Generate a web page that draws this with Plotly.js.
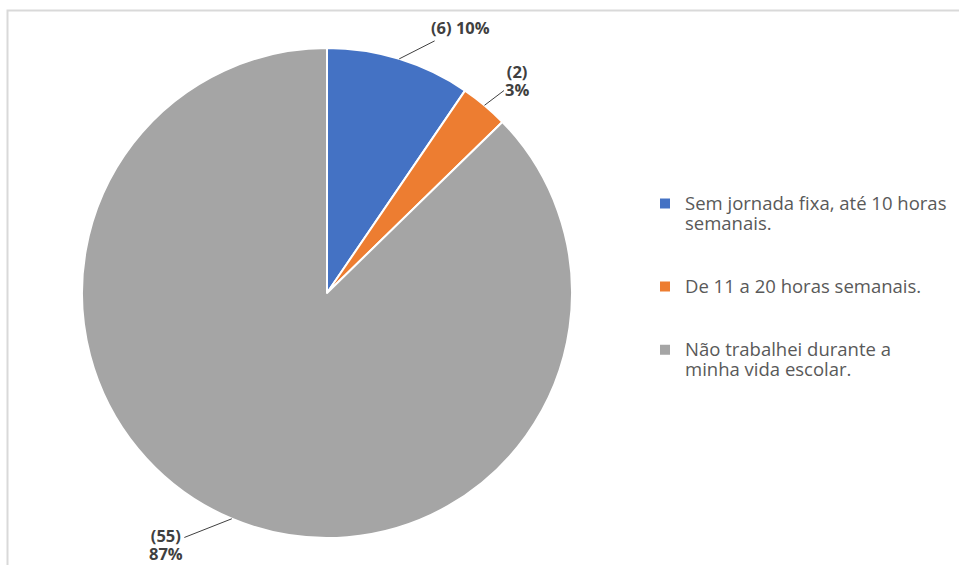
<!DOCTYPE html>
<html>
<head>
<meta charset="utf-8">
<script src="https://cdn.plot.ly/plotly-3.0.1.min.js"></script>
<style>html,body{margin:0;padding:0;background:#fff;}#chart{width:959px;height:565px;}</style>
</head>
<body>
<div id="chart"></div>
<script>
// ---- data ----
const categoryLines = [
  ["Sem jornada fixa, até 10 horas", "semanais."],
  ["De 11 a 20 horas semanais."],
  ["Não trabalhei durante a", "minha vida escolar."]
];
const counts = [6, 2, 55];
const colors = ["#4472C4", "#ED7D31", "#A5A5A5"];

// ---- layout geometry (px) ----
const W = 959, H = 565;
const cx = 327, cy = 293, R = 245;
// label offsets from slice edge midpoint (px)
const labelOffsets = [[61, -31], [33, -25], [-66, 26]];
const twoLineLabel = [false, true, true];
const big = (s, px) => "<span style='font-size:" + px + "px'>" + s + "</span>";

const total = counts.reduce((a, b) => a + b, 0);
let cum = 0;
const annotations = counts.map((v, i) => {
  const mid = (cum + v / 2) / total * 2 * Math.PI;
  cum += v;
  const px = cx + R * Math.sin(mid);
  const py = cy - R * Math.cos(mid);
  const pct = Math.round(v / total * 100);
  const parts = twoLineLabel[i] ? ["(" + v + ")", pct + "%"] : ["(" + v + ") " + pct + "%"];
  return {
    xref: "paper", yref: "paper",
    x: px / W, y: 1 - py / H,
    ax: labelOffsets[i][0], ay: labelOffsets[i][1],
    text: parts.map(p => big(p, 16.5)).join("<br>"),
    showarrow: true, arrowhead: 0, arrowwidth: 1, arrowcolor: "#404040",
    standoff: 0, startstandoff: 0,
    font: {family: "'Open Sans', sans-serif", size: 14, color: "#404040", weight: 700},
    align: "center"
  };
});

const trace = {
  type: "pie",
  labels: categoryLines.map(lines => lines.map(l => big(l, 18.5)).join("<br>") + "<br> <br> "),
  values: counts,
  marker: {colors: colors, line: {color: "#ffffff", width: 2}},
  sort: false,
  direction: "clockwise",
  rotation: 0,
  textinfo: "none",
  hoverinfo: "label+value+percent",
  domain: {x: [(cx - R) / W, (cx + R) / W], y: [1 - (cy + R) / H, 1 - (cy - R) / H]}
};

const layout = {
  width: W, height: H,
  margin: {l: 0, r: 0, t: 0, b: 0},
  paper_bgcolor: "#ffffff",
  showlegend: true,
  legend: {
    x: 645 / W, xanchor: "left",
    y: 1 - 187 / H, yanchor: "top",
    valign: "top",
    font: {family: "'Open Sans', sans-serif", size: 15.4, color: "#595959"},
    bgcolor: "rgba(0,0,0,0)",
    tracegroupgap: 0
  },
  annotations: annotations,
  shapes: [{
    type: "rect", xref: "paper", yref: "paper",
    x0: 7.5 / W, x1: 1.05, y0: -0.05, y1: 1 - 10.5 / H,
    line: {color: "#d9d9d9", width: 2}, fillcolor: "rgba(0,0,0,0)", layer: "below"
  }]
};

Plotly.newPlot("chart", [trace], layout, {displayModeBar: false, staticPlot: true});
</script>
</body>
</html>
